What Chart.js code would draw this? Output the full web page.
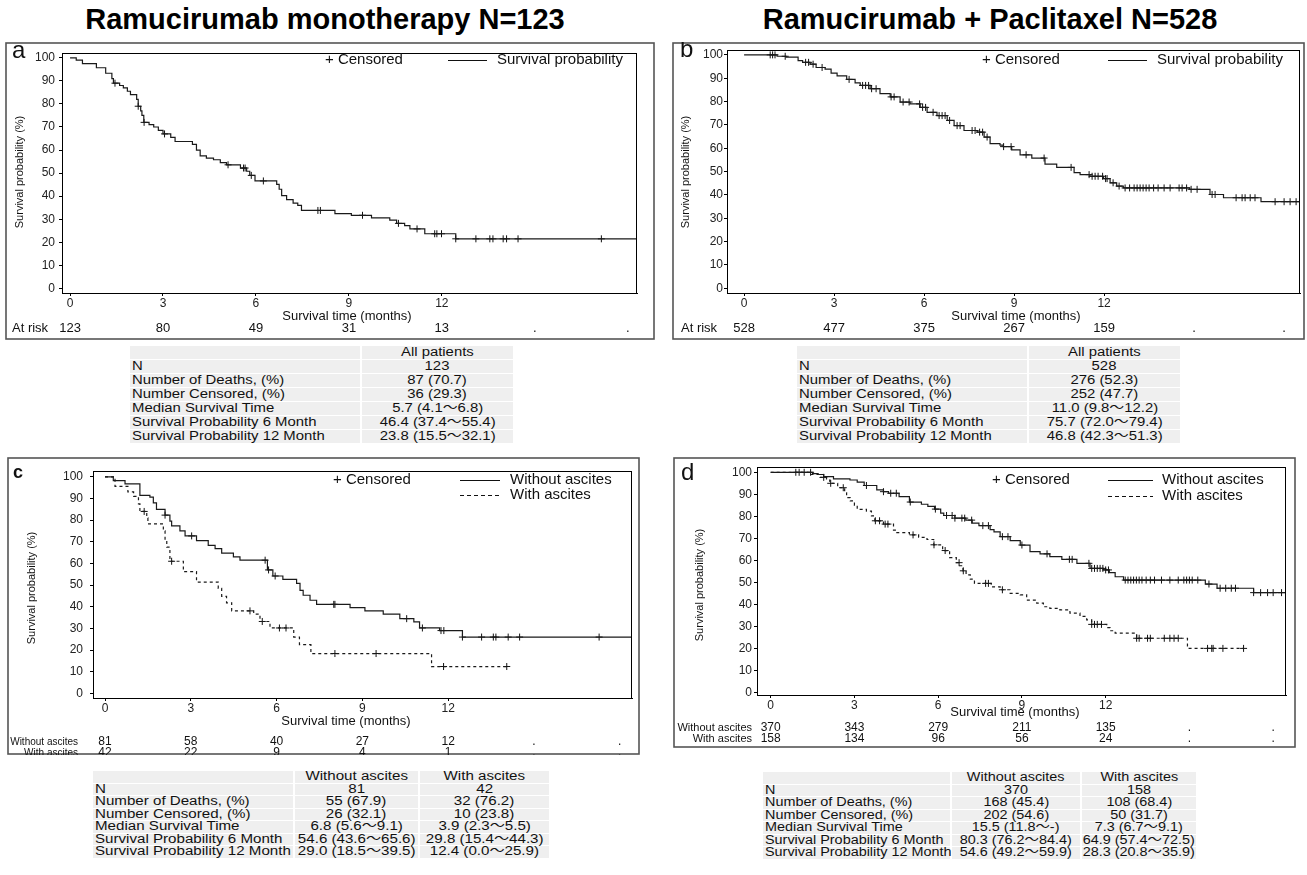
<!DOCTYPE html>
<html><head><meta charset="utf-8">
<script src="https://cdn.jsdelivr.net/npm/chart.js@4.4.1/dist/chart.umd.min.js"></script>
<style>
body{margin:0;background:#fff;font-family:"Liberation Sans",Arial,sans-serif;}
#page{position:relative;width:1307px;height:875px;overflow:hidden;background:#fff;}
.title{position:absolute;top:3px;font-weight:bold;font-size:29px;color:#000;text-align:center;white-space:nowrap;}
canvas{position:absolute;}
table.st{position:absolute;border-collapse:separate;border-spacing:2px 1px;font-size:12px;color:#111;table-layout:fixed;font-family:"Liberation Sans",Arial,"Noto Sans CJK JP",sans-serif;}
table.st td{background:#efefef;padding:0 2px;white-space:nowrap;}
table.st td.v{text-align:center;}
table.st span{display:inline-block;transform-origin:left center;}
table.st td.v span{transform-origin:center center;}
</style></head>
<body>
<div id="page">
  <div class="title" style="left:0;width:650px;">Ramucirumab monotherapy N=123</div>
  <div class="title" style="left:660px;width:660px;">Ramucirumab + Paclitaxel N=528</div>
  <canvas id="ca"></canvas>
  <canvas id="cb"></canvas>
  <canvas id="cc"></canvas>
  <canvas id="cd"></canvas>
  <table class="st" id="ta"></table>
  <table class="st" id="tb"></table>
  <table class="st" id="tc"></table>
  <table class="st" id="td"></table>
</div>
<script>
// ---------- shared axes ----------
const xTickVals = [0, 3, 6, 9, 12];
const yTickVals = [0, 10, 20, 30, 40, 50, 60, 70, 80, 90, 100];
const riskTimes = [0, 3, 6, 9, 12, 15, 18];

// ---------- panel a: Ramucirumab monotherapy ----------
const aTime = [0,0.2,0.4,0.85,1.15,1.35,1.4,1.6,1.72,1.85,1.95,2.15,2.2,2.28,2.32,2.38,2.55,2.7,2.85,3.0,3.25,3.39,3.95,4.08,4.2,4.4,4.63,4.85,5.05,5.5,5.7,5.8,5.97,6.67,6.75,6.83,6.99,7.2,7.35,7.47,8.55,9.08,9.73,10.32,10.54,10.8,10.97,11.45,12.45,18.3];
const aSurv = [100,99,97.5,95.7,93.3,91,89,88,87,85.5,84,82,79,77,75,72,71,70,68.5,67,65.5,63.7,62.5,60,57.5,56.5,55.8,54.5,53.6,52.2,50.8,49,46.6,45.1,43,40.2,38.5,37,36,33.8,32.4,31.7,30.6,29.6,28.2,27.2,25.8,23.7,21.5,21.5];
const aCensor = [1.45,2.2,2.39,3.05,5.1,5.6,5.65,5.85,6.24,8.0,8.08,9.44,10.6,11.2,11.77,11.84,11.99,12.45,13.1,13.55,13.65,13.98,14.09,14.46,17.15];
const aRisk = ['123','80','49','31','13','.','.'];

// ---------- panel b: Ramucirumab + Paclitaxel ----------
const bTime = [0,1.1,1.4,1.8,1.95,2.2,2.4,2.7,2.9,3.1,3.42,3.7,3.87,4.2,4.53,4.87,5.2,5.53,5.87,6.1,6.43,6.77,7.0,7.33,7.77,8.0,8.2,8.53,8.64,8.92,9.2,9.59,10.03,10.42,11.0,11.2,11.53,11.98,12.2,12.42,12.64,14.85,15.53,15.98,17.23,18.53];
const bSurv = [100,99.4,99,97.5,96.8,96,94.6,93.9,92.2,91,89.5,88,86.9,85.5,83.4,82,79.8,79,77.5,75.4,74,71.9,69.7,67.6,66.9,64.8,62,61.3,60.7,59.3,57.2,55.8,53.2,51.8,49.6,48.7,48,47,45.2,43.8,43,42.4,40.2,38.8,37.1,37.1];
const bCensor = [0.87,0.95,1.03,1.37,2.05,2.15,2.3,2.6,3.5,3.95,4.05,4.15,4.25,4.4,4.9,5.0,5.3,5.5,5.85,5.95,6.05,6.3,6.5,6.6,6.7,6.85,7.1,7.2,7.6,7.7,7.85,7.95,8.1,8.65,8.9,9.4,10.0,10.9,11.5,11.6,11.7,11.8,11.95,12.05,12.1,12.3,12.5,12.7,12.85,13.0,13.1,13.2,13.3,13.4,13.5,13.65,13.8,14.0,14.2,14.5,14.6,14.75,14.9,15.1,15.6,15.7,16.4,16.6,16.7,16.87,17.03,17.7,18.0,18.2,18.4];
const bRisk = ['528','477','375','267','159','.','.'];

// ---------- panel c: monotherapy by ascites ----------
const cNoTime = [0,0.29,0.7,1.22,1.57,1.69,1.8,2.1,2.27,2.33,2.62,2.8,3.2,3.61,3.85,4.08,4.49,4.72,5.68,5.87,6.22,6.7,6.82,6.93,7.17,7.4,8.57,9.09,9.73,10.31,10.8,11.0,11.7,12.5,18.43];
const cNoSurv = [100,98.2,96.7,91.4,90.6,88,85,82.3,79.5,77.3,75,72.7,70.5,68.3,66.8,64.8,63,61.5,57,54.2,52.6,50.8,47.6,45.3,43,41.1,39.6,38.1,36.6,34.5,33,30.2,29,26,26];
const cNoCensor = [2.1,3.03,5.6,5.72,5.95,8.0,8.04,10.55,11.1,11.75,11.85,12.5,13.17,13.58,13.67,14.1,14.5,17.28];
const cYesTime = [0,0.35,0.8,1.0,1.17,1.22,1.46,1.5,2.04,2.1,2.16,2.27,2.74,3.2,3.96,4.08,4.25,4.43,5.2,5.42,5.77,6.6,6.8,7.2,11.42,14.05];
const cYesSurv = [100,95.6,93,91,87.5,84,81,78.3,75,70.5,67.5,61,56.2,51.4,48.5,44.8,41.8,38.1,36.6,33.2,30.2,26,22.5,18.4,12.4,12.4];
const cYesCensor = [1.37,2.33,5.07,5.5,6.1,6.33,8.04,9.48,11.84,14.05];
const cRiskNo = ['81','58','40','27','12','.','.'];
const cRiskYes = ['42','22','9','4','1','.','.'];

// ---------- panel d: combination by ascites ----------
const dNoTime = [0,1.5,1.7,1.9,2.25,2.84,3.1,3.35,3.8,4.04,4.22,4.6,4.97,5.4,5.63,5.87,6.09,6.2,6.6,6.99,7.22,7.46,7.86,8.0,8.22,8.58,8.94,9.29,9.65,10.0,10.43,10.97,11.44,11.92,12.13,12.34,12.64,15.57,15.99,17.3,18.46];
const dNoSurv = [100,99.4,99,98,97,96.5,95.5,94,92,91.2,90.5,89,86.5,85.5,84.5,83.3,81.5,80.4,79.2,78.3,76.9,75.8,74,73,70.8,69,67,64,63,61.7,60.5,58.7,56.4,55.7,54.5,52.6,51.1,49.3,47.4,45.4,45.4];
const dNoCensor = [0.9,1.02,1.2,1.43,3.43,4.04,4.3,4.5,5.0,5.9,6.3,6.5,6.6,6.85,6.95,7.2,7.6,7.8,8.3,8.5,9.0,9.9,10.7,10.8,11.4,11.5,11.6,11.7,11.8,11.9,12.0,12.1,12.7,12.8,12.9,13.0,13.1,13.2,13.3,13.45,13.6,13.75,14.0,14.3,14.6,14.8,14.9,15.0,15.1,15.3,15.7,16.1,16.3,16.5,16.65,17.3,17.55,17.8,18.0,18.3];
const dYesTime = [0,1.4,1.77,2.0,2.12,2.4,2.65,2.72,2.85,3.0,3.1,3.43,3.61,3.73,4.04,4.4,4.52,4.97,5.3,5.6,5.84,6.16,6.41,6.65,6.77,6.89,7.0,7.15,7.3,7.9,8.22,8.58,8.94,9.17,9.53,9.77,10.0,10.36,10.72,11.08,11.32,11.5,12.04,12.16,12.34,13.11,14.93,16.94];
const dYesSurv = [100,99,97.7,96.5,95,93,90.7,88.5,87,85,83.2,82.4,80.2,78,76.5,73.8,72.6,71.6,70.5,69.5,67.1,64.5,61.3,59,57.6,55.3,53.5,51.5,49.6,48,46.7,45.1,44.4,42,40.6,39,38.3,37.6,36.1,34.6,33,31,29.5,28.1,27,24.7,20.1,20.1];
const dYesCensor = [1.9,2.15,2.6,3.75,3.9,4.1,4.2,5.1,5.85,6.25,6.75,6.9,7.7,7.8,8.3,11.5,11.6,11.7,11.85,13.11,13.2,13.5,13.6,14.1,14.3,14.45,14.6,15.65,15.8,15.85,16.2,16.94];
const dRiskNo = ['370','343','279','211','135','.','.'];
const dRiskYes = ['158','134','96','56','24','.','.'];

// ---------- summary tables ----------
const statLabels = ['N','Number of Deaths, (%)','Number Censored, (%)','Median Survival Time','Survival Probability 6 Month','Survival Probability 12 Month'];
const aStatHead = ['All patients'];
const aStats = ['123','87 (70.7)','36 (29.3)','5.7 (4.1～6.8)','46.4 (37.4～55.4)','23.8 (15.5～32.1)'];
const bStatHead = ['All patients'];
const bStats = ['528','276 (52.3)','252 (47.7)','11.0 (9.8～12.2)','75.7 (72.0～79.4)','46.8 (42.3～51.3)'];
const groupHead = ['Without ascites','With ascites'];
const cStatsNo = ['81','55 (67.9)','26 (32.1)','6.8 (5.6～9.1)','54.6 (43.6～65.6)','29.0 (18.5～39.5)'];
const cStatsYes = ['42','32 (76.2)','10 (23.8)','3.9 (2.3～5.5)','29.8 (15.4～44.3)','12.4 (0.0～25.9)'];
const dStatsNo = ['370','168 (45.4)','202 (54.6)','15.5 (11.8～-)','80.3 (76.2～84.4)','54.6 (49.2～59.9)'];
const dStatsYes = ['158','108 (68.4)','50 (31.7)','7.3 (6.7～9.1)','64.9 (57.4～72.5)','28.3 (20.8～35.9)'];

// ---------- helpers ----------
Chart.defaults.font.family = '"Liberation Sans", Arial, sans-serif';
Chart.defaults.color = '#222';
const FF = '"Liberation Sans", Arial, sans-serif';

function survAt(T, S, t) {
  let v = S[0];
  for (let i = 0; i < T.length; i++) { if (T[i] <= t) v = S[i]; else break; }
  return v;
}

function buildTable(id, st, heads, cols) {
  const t = document.getElementById(id);
  t.style.left = st.x + 'px'; t.style.top = st.y + 'px';
  const cell = (s, cls) => '<td' + (cls ? ' class="' + cls + '"' : '') +
    ' style="height:' + st.rh + 'px;line-height:' + st.rh + 'px"><span style="transform:scaleX(' + st.sx + ')">' + s + '</span></td>';
  let h = '<colgroup>' + st.widths.map(w => '<col style="width:' + w + 'px">').join('') + '</colgroup>';
  h += '<tr>' + cell('', '') + heads.map(s => cell(s, 'v')).join('') + '</tr>';
  statLabels.forEach((lab, i) => {
    h += '<tr>' + cell(lab, '') + cols.map(c => cell(c[i], 'v')).join('') + '</tr>';
  });
  t.innerHTML = h;
}

function makePanel(id, P) {
  const cv = document.getElementById(id);
  cv.width = P.box.w; cv.height = P.box.h;
  cv.style.left = P.box.x + 'px'; cv.style.top = P.box.y + 'px';
  cv.style.width = P.box.w + 'px'; cv.style.height = P.box.h + 'px';
  const leftW = P.area.l - P.box.x;
  const topPad = P.area.t - P.box.y;
  const rightPad = P.box.x + P.box.w - P.area.r;
  const bottomH = P.box.y + P.box.h - P.area.b;
  const ox = P.box.x, oy = P.box.y;

  const datasets = [];
  P.series.forEach(s => {
    datasets.push({
      data: s.time.map((t, i) => ({x: t, y: s.surv[i]})),
      stepped: 'before', borderColor: '#1a1a1a', borderWidth: 1.2,
      borderDash: s.dash ? [3, 3] : [], pointRadius: 0, fill: false
    });
    datasets.push({
      data: s.cens.map(t => ({x: t, y: survAt(s.time, s.surv, t)})),
      showLine: false, pointStyle: 'cross', pointRadius: 3.5,
      pointBorderColor: '#111', pointBorderWidth: 1, borderColor: '#111'
    });
  });

  const decor = {
    id: 'decor' + id,
    afterDatasetsDraw(chart) {
      const ctx = chart.ctx, a = chart.chartArea;
      ctx.save();
      ctx.strokeStyle = '#000'; ctx.lineWidth = 1;
      ctx.strokeRect(Math.round(a.left) + 0.5, Math.round(a.top) + 0.5, Math.round(a.right - a.left) - 1, Math.round(a.bottom - a.top));
      ctx.restore();
    },
    afterDraw(chart) {
      const ctx = chart.ctx, xs = chart.scales.x;
      ctx.save();
      ctx.strokeStyle = '#555'; ctx.lineWidth = 1.6;
      ctx.strokeRect(1, 1, P.box.w - 2, P.box.h - 2);
      ctx.fillStyle = '#111';
      ctx.font = P.letter.font + ' ' + FF;
      ctx.textAlign = 'left'; ctx.textBaseline = 'alphabetic';
      ctx.fillText(P.letter.t, P.letter.x - ox, P.letter.y - oy);
      ctx.save();
      ctx.translate(P.yTitle.x - ox, P.yTitle.y - oy);
      ctx.rotate(-Math.PI / 2);
      ctx.font = '11px ' + FF; ctx.textAlign = 'center'; ctx.textBaseline = 'middle';
      ctx.fillText('Survival probability (%)', 0, 0);
      ctx.restore();
      ctx.font = '13px ' + FF; ctx.textAlign = 'center'; ctx.textBaseline = 'middle';
      ctx.fillText('Survival time (months)', P.xTitle.x - ox, P.xTitle.y - oy);
      ctx.font = '15px ' + FF; ctx.textAlign = 'left'; ctx.textBaseline = 'middle';
      ctx.fillText('+ Censored', P.legend.cx - ox, P.legend.cy - oy);
      P.legend.items.forEach(it => {
        ctx.save();
        ctx.strokeStyle = '#111'; ctx.lineWidth = 1.2;
        ctx.setLineDash(it.dash ? [4, 3] : []);
        ctx.beginPath();
        ctx.moveTo(it.x1 - ox, it.y - oy + 0.5); ctx.lineTo(it.x2 - ox, it.y - oy + 0.5);
        ctx.stroke();
        ctx.restore();
        ctx.fillText(it.text, it.tx - ox, it.y - oy);
      });
      P.risk.forEach(r => {
        ctx.font = r.lfont + ' ' + FF; ctx.textAlign = r.align; ctx.textBaseline = 'middle';
        ctx.fillText(r.label, r.lx - ox, r.y - oy);
        ctx.font = r.nfont + ' ' + FF; ctx.textAlign = 'center';
        r.vals.forEach((v, i) => {
          ctx.fillText(v, xs.getPixelForValue(riskTimes[i]), r.y - oy);
        });
      });
      ctx.restore();
    }
  };

  return new Chart(cv, {
    type: 'line',
    data: {datasets},
    options: {
      responsive: false, animation: false, devicePixelRatio: 1,
      layout: {padding: {left: 0, top: topPad, right: rightPad, bottom: 0}},
      plugins: {legend: {display: false}, tooltip: {enabled: false}, title: {display: false}},
      scales: {
        x: {
          type: 'linear', min: P.xmin, max: P.xmax,
          afterBuildTicks: s => { s.ticks = xTickVals.map(v => ({value: v})); },
          afterFit: s => { s.height = bottomH; },
          grid: {drawOnChartArea: false, drawTicks: true, tickLength: 3, color: '#000', lineWidth: 1},
          border: {display: true, color: '#000', width: 1},
          ticks: {autoSkip: false, maxRotation: 0, padding: 0, color: '#222', font: {size: 12}}
        },
        y: {
          type: 'linear', min: P.ymin, max: P.ymax,
          afterBuildTicks: s => { s.ticks = yTickVals.map(v => ({value: v})); },
          afterFit: s => { s.width = leftW; },
          grid: {drawOnChartArea: false, drawTicks: true, tickLength: 3, color: '#000', lineWidth: 1},
          border: {display: true, color: '#000', width: 1},
          ticks: {autoSkip: false, padding: P.ytpad, color: '#222', font: {size: 12}}
        }
      }
    },
    plugins: [decor]
  });
}

// ---------- build panels ----------
makePanel('ca', {
  box: {x: 5, y: 42, w: 650, h: 298}, area: {l: 62, t: 48, r: 637, b: 293},
  xmin: -0.26, xmax: 18.3, ymin: -2, ymax: 102, ytpad: 4,
  series: [{time: aTime, surv: aSurv, cens: aCensor, dash: false}],
  letter: {t: 'a', x: 12, y: 58, font: '24px'},
  yTitle: {x: 20, y: 172}, xTitle: {x: 347, y: 316},
  legend: {cx: 325, cy: 60, items: [{x1: 448, x2: 487, y: 60, dash: false, text: 'Survival probability', tx: 497}]},
  risk: [{label: 'At risk', lx: 12, align: 'left', y: 328, lfont: '13px', nfont: '13px', vals: aRisk}]
});
makePanel('cb', {
  box: {x: 672, y: 42, w: 633, h: 298}, area: {l: 727, t: 48, r: 1300, b: 293},
  xmin: -0.57, xmax: 18.53, ymin: -2, ymax: 102, ytpad: 1,
  series: [{time: bTime, surv: bSurv, cens: bCensor, dash: false}],
  letter: {t: 'b', x: 680, y: 57, font: '24px'},
  yTitle: {x: 686, y: 172}, xTitle: {x: 1016, y: 316},
  legend: {cx: 982, cy: 60, items: [{x1: 1108, x2: 1147, y: 60, dash: false, text: 'Survival probability', tx: 1157}]},
  risk: [{label: 'At risk', lx: 681, align: 'left', y: 328, lfont: '13px', nfont: '13px', vals: bRisk}]
});
makePanel('cc', {
  box: {x: 7, y: 457, w: 633, h: 298}, area: {l: 93, t: 467, r: 632, b: 698},
  xmin: -0.42, xmax: 18.43, ymin: -2.13, ymax: 102.58, ytpad: 7,
  series: [{time: cNoTime, surv: cNoSurv, cens: cNoCensor, dash: false},
           {time: cYesTime, surv: cYesSurv, cens: cYesCensor, dash: true}],
  letter: {t: 'c', x: 13, y: 478, font: 'bold 18px'},
  yTitle: {x: 32, y: 588}, xTitle: {x: 346, y: 721},
  legend: {cx: 333, cy: 480, items: [
    {x1: 460, x2: 500, y: 480, dash: false, text: 'Without ascites', tx: 510},
    {x1: 460, x2: 500, y: 495, dash: true, text: 'With ascites', tx: 510}]},
  risk: [{label: 'Without ascites', lx: 78, align: 'right', y: 742, lfont: '10px', nfont: '12px', vals: cRiskNo},
         {label: 'With ascites', lx: 78, align: 'right', y: 753, lfont: '10px', nfont: '12px', vals: cRiskYes}]
});
makePanel('cd', {
  box: {x: 673, y: 457, w: 623, h: 291}, area: {l: 757, t: 467, r: 1286, b: 695},
  xmin: -0.49, xmax: 18.46, ymin: -1.04, ymax: 102.4, ytpad: 2,
  series: [{time: dNoTime, surv: dNoSurv, cens: dNoCensor, dash: false},
           {time: dYesTime, surv: dYesSurv, cens: dYesCensor, dash: true}],
  letter: {t: 'd', x: 681, y: 480, font: '24px'},
  yTitle: {x: 700, y: 585}, xTitle: {x: 1015, y: 712},
  legend: {cx: 992, cy: 480, items: [
    {x1: 1108, x2: 1153, y: 480, dash: false, text: 'Without ascites', tx: 1162},
    {x1: 1108, x2: 1153, y: 496, dash: true, text: 'With ascites', tx: 1162}]},
  risk: [{label: 'Without ascites', lx: 752, align: 'right', y: 728, lfont: '11px', nfont: '12px', vals: dRiskNo},
         {label: 'With ascites', lx: 752, align: 'right', y: 739, lfont: '11px', nfont: '12px', vals: dRiskYes}]
});

// ---------- tables ----------
buildTable('ta', {x: 128, y: 345, rh: 13, sx: 1.24, widths: [230, 151]}, aStatHead, [aStats]);
buildTable('tb', {x: 795, y: 345, rh: 13, sx: 1.24, widths: [230, 151]}, bStatHead, [bStats]);
buildTable('tc', {x: 91, y: 770, rh: 11.5, sx: 1.26, widths: [200, 123, 129]}, groupHead, [cStatsNo, cStatsYes]);
buildTable('td', {x: 761, y: 771, rh: 11.5, sx: 1.2, widths: [187, 128, 114]}, groupHead, [dStatsNo, dStatsYes]);
</script>
</body></html>
